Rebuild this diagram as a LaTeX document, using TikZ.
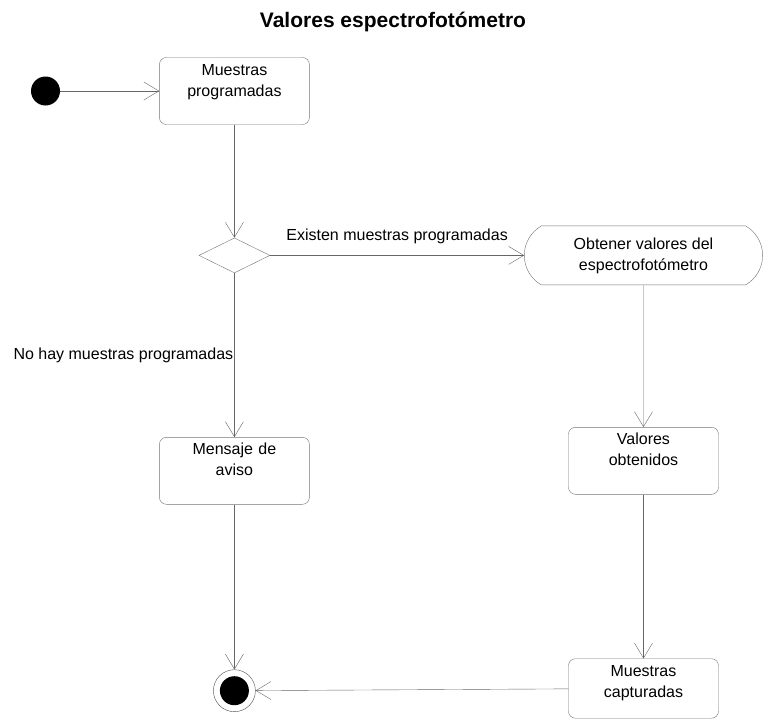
\documentclass[tikz,border=0pt]{standalone}
\usepackage{fontspec}
\setmainfont{Liberation Sans}
\usepackage{tikz}
\usetikzlibrary{shapes.geometric, shapes.misc, arrows.meta, positioning}

\begin{document}
\begin{tikzpicture}[x=1pt, y=-1pt,
    font=\fontsize{16}{21}\selectfont,
    estado/.style={draw=black!55, rounded corners=7pt, text width=142pt, align=center,
        inner xsep=4pt, inner ysep=0pt, text height=17.5pt, text depth=49.5pt},
    flecha/.style={draw=black!60, ->, >={Straight Barb[length=15pt, width=18pt]}}]
    \useasboundingbox (0,0) rectangle (771,720);
    \node[font=\fontsize{21}{25}\selectfont\bfseries] (titulo) at (393,22) {Valores espectrofotómetro};
    \node[circle, fill=black, minimum size=29pt, inner sep=0pt] (ini) at (45.5,91) {};
    \node[estado, right=99pt of ini] (prog) {Muestras\\programadas};
    \node[diamond, draw=black!55, minimum width=71pt, minimum height=35pt, inner sep=0pt, below=113pt of prog] (dec) {};
    \node[rounded rectangle, rounded rectangle arc length=120, draw=black!55, minimum width=245pt, minimum height=59pt,
        align=center, right=254pt of dec] (obt) {Obtener valores del\\espectrofotómetro};
    \node[estado, below=164pt of dec] (aviso) {Mensaje de\\aviso};
    \node[estado, below=142pt of obt] (val) {Valores\\obtenidos};
    \node[estado, text depth=42pt, below=164pt of val] (capt) {Muestras\\capturadas};
    \node[circle, draw=black!70, minimum size=42pt, inner sep=0pt, below=165pt of aviso,
        path picture={\fill (path picture bounding box.center) circle (14.5pt);}] (fin) {};
    \draw[flecha] (ini) -- (prog);
    \draw[flecha] (prog) -- (dec);
    \draw[flecha] (dec) -- node[above=8pt]{Existen muestras programadas} (obt);
    \draw[flecha] (dec) -- node[left, inner xsep=1pt]{No hay muestras programadas} (aviso);
    \draw[flecha] (obt) -- (val);
    \draw[flecha] (val) -- (capt);
    \draw[flecha] (aviso) -- (fin);
    \draw[flecha] (capt) -- (fin);
\end{tikzpicture}
\end{document}
